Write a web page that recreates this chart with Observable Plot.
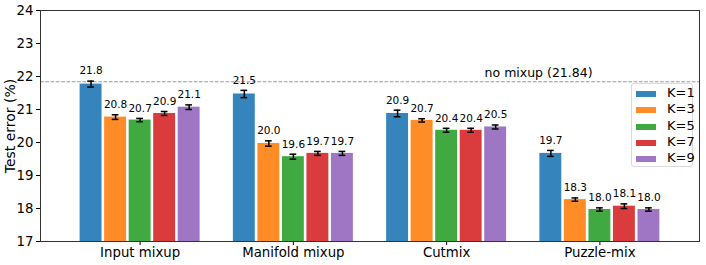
<!DOCTYPE html>
<html>
<head>
<meta charset="utf-8">
<script src="https://cdn.jsdelivr.net/npm/d3@7"></script>
<script src="https://cdn.jsdelivr.net/npm/@observablehq/plot@0.6"></script>
<style>
  body { margin: 0; background: #fff; }
  #wrap { position: relative; width: 706px; height: 265px; font-family: "DejaVu Sans", sans-serif; }
  #wrap g[aria-label="y-axis label"] text { font-size: 14px; }
  #legend { position: absolute; left: 631px; top: 83px; width: 62px; height: 84px; border: 1px solid #d9d9d9; border-radius: 3px; background: rgba(255,255,255,0.85); box-sizing: border-box; }
  .row { position: absolute; left: 0; height: 16px; width: 100%; }
  .sw { position: absolute; left: 4px; top: 6px; width: 20px; height: 6px; }
  .lab { position: absolute; left: 35px; top: 0; font-size: 13px; line-height: 16px; color: #000; }
</style>
</head>
<body>
<div id="wrap"></div>
<script>
const methods = ["Input mixup", "Manifold mixup", "Cutmix", "Puzzle-mix"];
const ks = ["K=1", "K=3", "K=5", "K=7", "K=9"];
const colors = ["#1f77b4", "#ff7f0e", "#2ca02c", "#d62728", "#9467bd"];
const k1 = [21.77, 21.47, 20.88, 19.67];
const k3 = [20.77, 19.97, 20.67, 18.27];
const k5 = [20.68, 19.57, 20.37, 17.97];
const k7 = [20.88, 19.67, 20.37, 18.07];
const k9 = [21.07, 19.67, 20.47, 17.97];
const e1 = [0.09, 0.11, 0.10, 0.09];
const e3 = [0.07, 0.08, 0.05, 0.05];
const e5 = [0.05, 0.075, 0.06, 0.05];
const e7 = [0.06, 0.06, 0.06, 0.07];
const e9 = [0.07, 0.06, 0.06, 0.05];
const noMixup = 21.84;
const yTicks = [17, 18, 19, 20, 21, 22, 23, 24];

const series = [k1, k3, k5, k7, k9];
const errs = [e1, e3, e5, e7, e9];
const barW = 0.16;
const data = methods.flatMap((m, g) => ks.map((k, j) => {
  const c = g + (j - 2) * barW;
  return {method: m, k, c, x1: c - barW / 2, x2: c + barW / 2,
          value: series[j][g], lo: series[j][g] - errs[j][g], hi: series[j][g] + errs[j][g],
          cl: c - 0.022, cr: c + 0.022};
}));

const chart = Plot.plot({
  width: 706,
  height: 265,
  marginLeft: 40,
  marginRight: 7,
  marginTop: 10,
  marginBottom: 24,
  style: {fontFamily: "DejaVu Sans, sans-serif", fontSize: "13.3px", color: "#000", background: "#fff"},
  x: {domain: [-0.65, 3.65], ticks: [0, 1, 2, 3], tickFormat: i => methods[i], tickSize: 4, tickPadding: 2, label: null},
  y: {domain: [17, 24], ticks: yTicks, tickFormat: d => d, tickSize: 4, tickPadding: 3, label: "Test error (%)", labelAnchor: "center", labelArrow: "none", labelOffset: 35},
  color: {domain: ks, range: colors},
  marks: [
    Plot.rectY(data, {x1: "x1", x2: "x2", y1: 17, y2: "value", fill: "k", fillOpacity: 0.9, insetLeft: 1.3, insetRight: 1.3}),
    Plot.ruleY([noMixup], {stroke: "#999", strokeWidth: 1, strokeDasharray: "3.7,1.6"}),
    Plot.text(["no mixup (21.84)"], {x: 2.6, y: noMixup, text: d => d, dy: -9, fontSize: 12.5, fill: "#000"}),
    Plot.ruleX(data, {x: "c", y1: "lo", y2: "hi", stroke: "#000", strokeWidth: 1.5}),
    Plot.ruleY(data, {y: "lo", x1: "cl", x2: "cr", stroke: "#000", strokeWidth: 1.5}),
    Plot.ruleY(data, {y: "hi", x1: "cl", x2: "cr", stroke: "#000", strokeWidth: 1.5}),
    Plot.text(data, {x: "c", y: "hi", text: d => d.value.toFixed(1), dy: -10, fontSize: 10.5, fill: "#000"}),
    Plot.frame({stroke: "#333", strokeWidth: 1})
  ]
});

const wrap = document.getElementById("wrap");
wrap.appendChild(chart);
const legend = document.createElement("div");
legend.id = "legend";
ks.forEach((k, i) => {
  const row = document.createElement("div");
  row.className = "row";
  row.style.top = (1 + i * 16.3) + "px";
  const sw = document.createElement("div");
  sw.className = "sw";
  sw.style.background = colors[i];
  sw.style.opacity = 0.9;
  const lab = document.createElement("div");
  lab.className = "lab";
  lab.textContent = k;
  row.appendChild(sw);
  row.appendChild(lab);
  legend.appendChild(row);
});
wrap.appendChild(legend);
</script>
</body>
</html>
